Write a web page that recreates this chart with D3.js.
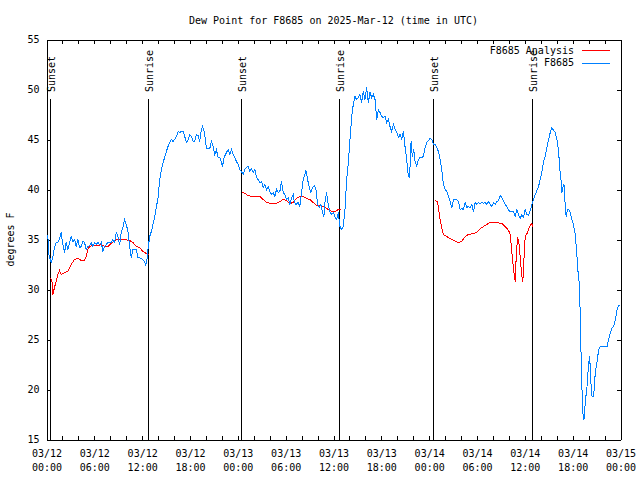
<!DOCTYPE html>
<html><head><meta charset="utf-8">
<script src="https://cdn.jsdelivr.net/npm/d3@7"></script>
<style>
body{margin:0;background:#fff;}
svg text{font-family:"DejaVu Sans Mono","Liberation Mono",monospace;font-size:10px;fill:#000;}
</style></head>
<body><svg id="chart" width="640" height="480"></svg>
<script>
const titleText = "Dew Point for F8685 on 2025-Mar-12 (time in UTC)";
const yLabelText = "degrees F";
const startTime = "2025-03-12T00:00:00Z";
const spanHours = 72;
const yTicks = [15,20,25,30,35,40,45,50,55];
const xMinorStepHours = 2;
const xMajorStepHours = 6;
const seriesNames = ["F8685 Analysis","F8685"];
const seriesColors = ["#ff0000","#0080ff"];
const sunLabels = ["Sunset","Sunrise","Sunset","Sunrise","Sunset","Sunrise"];
const sunHours = [0.42,12.73,24.42,36.73,48.54,60.86];

// F8685 observations (hours since start, degF)
const obsHours = [0.05,0.17,0.29,0.59,0.80,1.00,1.21,1.42,1.63,1.84,2.05,2.26,2.47,2.68,2.89,3.10,3.31,3.52,3.73,3.94,4.15,4.36,4.56,4.77,4.98,5.19,5.40,5.61,5.82,6.03,6.24,6.45,6.66,6.87,7.08,7.29,7.50,7.71,7.91,8.12,8.33,8.54,8.75,8.96,9.17,9.38,9.59,9.80,10.01,10.22,10.43,10.64,10.85,11.06,11.27,11.48,11.89,12.31,12.44,12.60,12.73,12.94,13.15,13.36,13.57,13.78,13.99,14.20,14.41,14.62,14.82,15.03,15.24,15.45,15.66,15.87,16.08,16.29,16.50,16.71,16.92,17.13,17.34,17.55,17.76,17.97,18.18,18.39,18.59,18.80,19.01,19.22,19.43,19.56,19.77,19.93,20.06,20.27,20.48,20.69,20.89,21.10,21.31,21.52,21.73,21.94,22.07,22.28,22.57,22.78,22.99,23.20,23.41,23.62,23.83,24.04,24.25,24.45,24.66,24.88,25.09,25.30,25.51,25.72,25.92,26.13,26.34,26.55,26.76,26.97,27.18,27.39,27.60,27.81,28.02,28.23,28.44,28.64,28.85,29.06,29.27,29.48,29.69,29.90,30.11,30.32,30.53,30.74,30.95,31.07,31.28,31.57,31.78,31.99,32.20,32.41,32.54,32.75,32.96,33.17,33.38,33.59,33.80,34.01,34.22,34.43,34.63,34.80,34.93,35.13,35.34,35.55,35.76,35.97,36.18,36.39,36.60,36.81,37.02,37.23,37.44,37.65,37.86,38.07,38.28,38.48,38.69,38.90,39.11,39.32,39.53,39.74,39.95,40.16,40.37,40.58,40.79,41.00,41.21,41.42,41.63,41.83,42.04,42.25,42.46,42.67,42.88,43.09,43.30,43.51,43.72,43.93,44.14,44.35,44.56,44.77,44.97,45.18,45.31,45.48,45.60,45.73,45.89,46.06,46.23,46.44,46.65,46.86,47.07,47.28,47.49,47.70,47.90,48.11,48.32,48.53,48.74,48.95,49.16,49.37,49.58,49.79,50.00,50.21,50.42,50.63,50.84,51.05,51.26,51.47,51.67,51.88,52.09,52.30,52.51,52.72,52.93,53.14,53.35,53.56,53.77,53.98,54.19,54.40,54.61,54.82,55.02,55.23,55.44,55.65,55.86,56.07,56.28,56.49,56.70,56.91,57.12,57.33,57.54,57.75,57.96,58.17,58.37,58.58,58.79,59.00,59.21,59.42,59.63,59.84,60.05,60.26,60.47,60.68,60.89,61.10,61.31,61.51,61.72,61.93,62.14,62.35,62.56,62.77,62.98,63.19,63.40,63.61,63.82,64.03,64.24,64.36,64.53,64.66,64.78,64.91,64.99,65.08,65.20,65.33,65.49,65.70,65.91,66.12,66.33,66.54,66.67,66.84,66.96,67.09,67.26,67.42,67.59,67.80,68.01,68.14,68.26,68.43,68.64,68.76,68.93,69.10,69.26,69.47,69.89,70.31,70.52,70.73,70.94,71.15,71.36,71.57,71.78,71.99];
const obsValues = [35.3,35.4,33.5,32.7,33.3,34.2,34.7,34.7,35.1,35.7,34.5,33.7,34.7,34.0,34.7,35.3,34.8,35.0,34.3,35.0,34.2,34.3,34.8,34.7,34.0,34.3,34.4,34.7,34.3,34.7,34.5,34.7,34.5,34.7,33.8,34.3,34.5,34.7,34.7,34.7,35.0,34.7,35.7,35.3,34.5,35.7,36.2,37.0,36.5,35.8,34.3,33.2,34.0,34.0,34.0,33.2,33.1,32.8,32.4,33.0,34.0,35.3,35.8,36.5,37.3,38.2,39.2,41.0,42.0,42.7,43.2,43.8,44.3,44.7,45.0,44.8,45.0,45.3,45.8,45.7,45.8,45.8,45.3,44.7,45.0,45.5,45.3,44.8,44.8,45.5,45.4,44.8,46.0,46.3,45.8,45.0,44.1,44.1,44.1,44.8,44.3,43.5,44.0,43.2,43.2,42.7,42.3,43.2,43.7,44.0,43.5,44.0,43.5,43.2,42.8,42.5,42.0,41.8,41.5,42.0,42.2,42.3,41.8,42.1,41.7,42.0,41.2,41.0,40.7,40.8,40.2,40.5,40.0,40.3,39.8,39.5,39.7,39.3,40.0,39.7,39.8,40.8,39.7,39.5,39.0,39.2,38.5,39.2,39.5,38.8,38.5,38.7,38.3,39.7,41.0,41.5,41.9,41.0,40.2,39.7,40.2,40.4,40.0,38.5,38.2,38.5,37.7,37.3,38.7,39.7,38.5,37.8,37.5,37.7,37.3,37.0,37.7,36.3,36.0,36.3,38.0,41.0,42.7,45.0,47.3,48.5,49.3,49.0,49.2,49.5,48.7,49.8,49.0,50.2,48.7,49.7,49.2,49.5,49.0,47.0,48.0,47.7,47.3,47.2,47.3,46.7,47.0,46.3,45.8,46.5,46.0,45.7,45.2,45.5,45.0,45.8,44.3,43.0,41.8,41.2,42.3,44.8,43.3,44.0,42.8,42.3,43.0,43.2,43.2,43.3,44.2,44.7,44.9,45.1,45.0,44.5,44.5,44.2,43.8,43.0,42.0,40.5,40.0,39.8,39.3,38.8,38.2,39.0,39.0,39.0,38.8,38.0,38.1,38.0,38.7,38.2,38.3,38.2,38.5,37.8,38.7,38.5,38.7,38.6,38.7,38.6,38.7,38.5,38.8,38.5,38.3,38.7,38.5,38.8,38.9,39.4,39.2,38.8,38.5,38.3,37.9,37.8,37.8,37.8,37.3,38.0,37.5,37.1,37.5,37.2,38.0,37.5,37.4,37.9,38.5,39.0,39.5,39.9,40.3,41.0,41.8,42.8,43.3,44.2,45.0,45.7,46.2,45.9,45.7,45.0,43.8,42.3,41.0,39.7,40.2,40.5,39.7,38.0,37.3,38.0,38.0,37.7,37.0,36.4,35.5,33.3,31.8,30.5,27.2,22.0,17.7,17.0,18.8,20.3,22.7,23.3,21.0,19.3,19.3,21.0,22.2,23.0,24.0,24.3,24.3,24.3,25.0,25.7,26.2,26.3,27.0,28.0,28.4,28.4];

// F8685 Analysis (night periods only; null = gap)
const anaHours = [0.50,0.67,0.80,1.00,1.21,1.42,1.63,1.84,2.05,2.26,2.68,2.89,3.10,3.52,3.94,4.36,4.77,4.98,5.19,5.40,5.82,6.45,6.87,7.29,7.71,8.12,8.54,8.96,9.80,10.43,10.85,11.27,11.69,12.10,12.52,12.82,18.00,24.58,24.88,25.30,25.72,26.13,26.76,27.18,27.60,28.23,28.85,29.27,29.69,30.11,30.53,30.95,31.36,31.78,32.20,32.62,33.04,33.46,33.88,34.30,34.71,35.34,35.76,36.18,36.60,36.93,42.00,48.74,49.04,49.16,49.37,49.58,49.79,50.21,50.63,51.05,51.67,52.09,52.51,52.93,53.56,53.98,54.40,54.82,55.23,55.65,56.07,56.49,57.12,57.54,57.96,58.17,58.37,58.58,58.79,58.92,59.09,59.25,59.42,59.63,59.75,59.92,60.05,60.34,60.59,60.89,60.97];
const anaValues = [31.1,31.0,29.5,30.2,30.8,31.5,31.9,31.5,31.6,31.7,31.8,32.2,32.5,33.0,33.1,32.9,32.9,33.3,34.0,34.3,34.4,34.4,34.5,34.3,34.3,34.6,34.9,35.0,35.0,34.9,34.7,34.3,34.2,33.8,33.6,33.5,null,39.7,39.6,39.4,39.3,39.3,39.3,39.0,38.7,38.6,38.6,38.8,39.0,38.9,38.6,38.7,39.1,39.3,39.3,39.1,39.0,38.7,38.4,38.4,38.3,38.0,37.8,37.8,38.0,38.0,null,38.9,38.8,38.2,37.0,36.2,35.5,35.3,35.1,34.9,34.7,34.8,35.3,35.5,35.6,35.7,36.1,36.3,36.5,36.7,36.7,36.7,36.6,36.3,35.9,35.5,33.7,32.0,30.8,33.3,35.2,34.7,33.2,31.3,30.8,33.5,35.3,35.7,36.3,36.6,36.3];

const svg = d3.select("#chart");
const L = 46.5, R = 620.5, T = 39.5, B = 439.5;
const t0 = new Date(startTime);
const hToDate = h => new Date(t0.getTime() + h * 3600000);
const x = d3.scaleUtc().domain([t0, hToDate(spanHours)]).range([L, R]);
const y = d3.scaleLinear().domain([15, 55]).range([B, T]);

const minorTicks = d3.range(0, spanHours + 0.001, xMinorStepHours).map(hToDate);
const fmtDay = d3.utcFormat("%m/%d"), fmtTime = d3.utcFormat("%H:%M");

// axes
const gB = svg.append("g").attr("transform", `translate(0,${B})`)
  .call(d3.axisBottom(x).tickValues(minorTicks).tickSizeInner(-4).tickSizeOuter(0).tickFormat(""));
gB.selectAll(".tick").each(function(d){
  const hrs = (d - t0) / 3600000;
  if (Math.round(hrs) % xMajorStepHours !== 0) return;
  const t = d3.select(this).append("text").attr("fill","#000").attr("text-anchor","middle");
  t.append("tspan").attr("x",0).attr("y",17.8).text(fmtDay(d));
  t.append("tspan").attr("x",0).attr("y",31.5).text(fmtTime(d));
});
svg.append("g").attr("transform", `translate(0,${T})`)
  .call(d3.axisTop(x).tickValues(minorTicks).tickSizeInner(-4).tickSizeOuter(0).tickFormat(""));
svg.append("g").attr("transform", `translate(${L},0)`)
  .call(d3.axisLeft(y).tickValues(yTicks).tickSizeInner(-4).tickSizeOuter(0).tickPadding(7));
svg.append("g").attr("transform", `translate(${R},0)`)
  .call(d3.axisRight(y).tickValues(yTicks).tickSizeInner(-4).tickSizeOuter(0).tickFormat(""));
svg.selectAll(".domain, .tick line").attr("stroke","#000").attr("shape-rendering","crispEdges");
svg.selectAll(".tick text").attr("font-family", null).attr("font-size", null);
svg.selectAll("g").attr("font-family", null).attr("font-size", null);

// title & y label
svg.append("text").attr("x", (L + R) / 2).attr("y", 23.5).attr("text-anchor","middle").text(titleText);
svg.append("text").attr("transform", `translate(13.5,${(T + B) / 2}) rotate(-90)`)
  .attr("text-anchor","middle").text(yLabelText);

// sunrise / sunset markers
sunHours.forEach((h, i) => {
  const xp = Math.round(x(hToDate(h))) + 0.5;
  svg.append("line").attr("x1", xp).attr("x2", xp).attr("y1", 99).attr("y2", B)
    .attr("stroke","#000").attr("shape-rendering","crispEdges");
  svg.append("text").attr("transform", `translate(${xp + 4},92) rotate(-90)`)
    .attr("text-anchor","start").text(sunLabels[i]);
});

// data
const line = d3.line().defined(d => d[1] !== null)
  .x(d => x(hToDate(d[0]))).y(d => y(d[1]));
const anaData = anaHours.map((h, i) => [h, anaValues[i]]);
const obsData = obsHours.map((h, i) => [h, obsValues[i]]);
svg.append("path").datum(anaData).attr("d", line).attr("fill","none")
  .attr("stroke", seriesColors[0]).attr("stroke-width", 1).attr("shape-rendering","crispEdges");
svg.append("path").datum(obsData).attr("d", line).attr("fill","none")
  .attr("stroke", seriesColors[1]).attr("stroke-width", 1).attr("shape-rendering","crispEdges");

// legend
const legRows = [50, 62.5];
seriesNames.forEach((name, i) => {
  svg.append("text").attr("x", 574).attr("y", legRows[i]).attr("dy","0.35em")
    .attr("text-anchor","end").text(name);
  svg.append("line").attr("x1", 582).attr("x2", 610).attr("y1", Math.round(legRows[i]) + 0.5)
    .attr("y2", Math.round(legRows[i]) + 0.5).attr("stroke", seriesColors[i])
    .attr("shape-rendering","crispEdges");
});
</script></body></html>
